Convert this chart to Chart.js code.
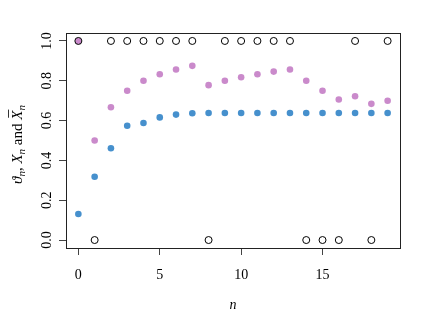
<!DOCTYPE html>
<html>
<head>
<meta charset="utf-8">
<script src="https://cdn.jsdelivr.net/npm/chart.js@4.4.1/dist/chart.umd.min.js"></script>
<style>
  html, body { margin: 0; padding: 0; background: #fff; }
  #wrap { width: 433px; height: 315px; }
</style>
</head>
<body>
<div id="wrap"><canvas id="myChart"></canvas></div>
<script>
// n = 0..19
const steps = [0, 1, 2, 3, 4, 5, 6, 7, 8, 9, 10, 11, 12, 13, 14, 15, 16, 17, 18, 19];
// theta_n (blue)
const theta = [0.131, 0.318, 0.461, 0.574, 0.588, 0.616, 0.630, 0.637, 0.638, 0.638,
               0.638, 0.638, 0.638, 0.638, 0.638, 0.638, 0.638, 0.638, 0.638, 0.638];
// X_n observations (open circles)
const xObs = [1, 0, 1, 1, 1, 1, 1, 1, 0, 1, 1, 1, 1, 1, 0, 0, 0, 1, 0, 1];
// running mean X-bar_n (pink)
const xBar = [1.000, 0.500, 0.667, 0.750, 0.800, 0.833, 0.857, 0.875, 0.778, 0.800,
              0.818, 0.833, 0.846, 0.857, 0.800, 0.750, 0.706, 0.722, 0.684, 0.700];
const xTicks = [0, 5, 10, 15];
const yTicks = [0.0, 0.2, 0.4, 0.6, 0.8, 1.0];

const serif = "'Liberation Serif', 'DejaVu Serif', serif";

function pts(ys) {
    return steps.map((n, i) => ({ x: n, y: ys[i] }));
}

// box around the plot region, like R's box()
const boxPlugin = {
    id: 'box',
    afterDraw(chart) {
        const a = chart.chartArea;
        const c = chart.ctx;
        c.save();
        c.strokeStyle = '#222';
        c.lineWidth = 1;
        c.strokeRect(Math.round(a.left) + 0.5, Math.round(a.top) + 0.5,
                     Math.round(a.right - a.left), Math.round(a.bottom - a.top));
        c.restore();
    }
};

// y axis title with italic symbols, subscripts and a bar over the last X
const yTitlePlugin = {
    id: 'ytitle',
    afterDraw(chart) {
        const a = chart.chartArea;
        const c = chart.ctx;
        // [text, style, subscript, overbar]
        const parts = [
            ['ϑ', 'italic', 0, 0], ['n', 'italic', 1, 0], [', ', 'normal', 0, 0],
            ['X', 'italic', 0, 0], ['n', 'italic', 1, 0], [' and ', 'normal', 0, 0],
            ['X', 'italic', 0, 1], ['n', 'italic', 1, 0]
        ];
        const fontFor = p => p[1] + ' ' + (p[2] ? 11 : 15) + 'px ' + serif;
        c.save();
        let total = 0;
        parts.forEach(p => { c.font = fontFor(p); total += c.measureText(p[0]).width; });
        c.translate(17, (a.top + a.bottom) / 2 + 4);
        c.rotate(-Math.PI / 2);
        c.fillStyle = '#000';
        c.strokeStyle = '#000';
        c.lineWidth = 0.8;
        c.textBaseline = 'alphabetic';
        let x = -total / 2;
        parts.forEach(p => {
            c.font = fontFor(p);
            const w = c.measureText(p[0]).width;
            c.fillText(p[0], x, p[2] ? 8 : 5);
            if (p[3]) {
                c.beginPath();
                c.moveTo(x + 2, -8.5);
                c.lineTo(x + w + 1, -8.5);
                c.stroke();
            }
            x += w;
        });
        c.restore();
    }
};

const ctx = document.getElementById('myChart');
const myChart = new Chart(ctx, {
    type: 'scatter',
    data: {
        datasets: [
            {
                label: 'theta',
                data: pts(theta),
                backgroundColor: '#4690CD',
                borderWidth: 0,
                pointRadius: 3.3
            },
            {
                label: 'X',
                data: pts(xObs),
                backgroundColor: 'rgba(0,0,0,0)',
                borderColor: '#000',
                borderWidth: 1,
                pointRadius: 3.5
            },
            {
                label: 'Xbar',
                data: pts(xBar),
                backgroundColor: '#CA8ACB',
                borderWidth: 0,
                pointRadius: 3.3
            }
        ]
    },
    options: {
        responsive: true,
        maintainAspectRatio: false,
        animation: false,
        layout: { padding: { top: 33, right: 33, left: 0, bottom: 0 } },
        plugins: {
            legend: { display: false },
            tooltip: { enabled: false }
        },
        scales: {
            x: {
                type: 'linear',
                min: -0.76,
                max: 19.76,
                afterBuildTicks: s => { s.ticks = xTicks.map(v => ({ value: v })); },
                afterFit: s => { s.height = 67; },
                grid: { drawOnChartArea: false, tickLength: 7, color: '#444' },
                border: { display: false },
                ticks: {
                    padding: 12,
                    color: '#000',
                    font: { family: serif, size: 14 }
                },
                title: {
                    display: true,
                    text: 'n',
                    color: '#000',
                    font: { family: serif, size: 14, style: 'italic' },
                    padding: { top: 0, bottom: 1 }
                }
            },
            y: {
                type: 'linear',
                min: -0.04,
                max: 1.04,
                afterBuildTicks: s => { s.ticks = yTicks.map(v => ({ value: v })); },
                afterFit: s => { s.width = 66; },
                grid: { drawOnChartArea: false, tickLength: 7, color: '#444' },
                border: { display: false },
                ticks: {
                    minRotation: 90,
                    maxRotation: 90,
                    crossAlign: 'center',
                    padding: 3,
                    color: '#000',
                    font: { family: serif, size: 14 },
                    callback: v => v.toFixed(1)
                }
            }
        }
    },
    plugins: [boxPlugin, yTitlePlugin]
});
</script>
</body>
</html>
